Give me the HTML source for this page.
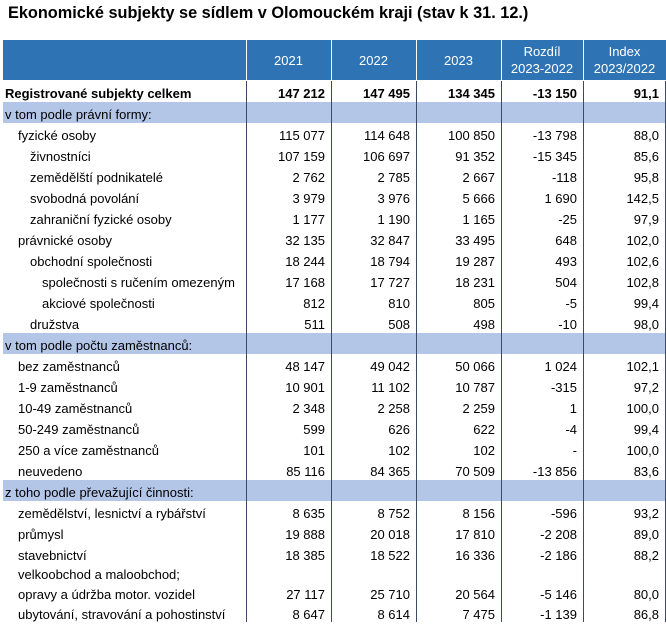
<!DOCTYPE html>
<html><head><meta charset="utf-8"><style>
body{margin:0;width:666px;height:622px;background:#fff;position:relative;overflow:hidden;font-family:"Liberation Sans",Arial,sans-serif;font-size:13px;color:#000}
.t{position:absolute;left:8px;top:4px;font-weight:bold;font-size:16.3px;white-space:nowrap}
.hd{position:absolute;top:40px;left:3px;width:663px;height:40px;background:#2e74b5}
.hc{position:absolute;top:40px;height:40px;color:#fff;display:flex;align-items:center;justify-content:center;text-align:center;line-height:17px;font-size:13px}
.hl{position:absolute;top:40px;height:40px;width:1px;background:#fff}
.vl{position:absolute;top:81px;height:541px;width:1px;background:#3b4a66}
.sec{position:absolute;left:3px;width:663px;height:21px;background:#b4c6e7}
.r{position:absolute;left:0;width:666px;height:21px}
.r span{position:absolute;top:2px;line-height:21px;white-space:nowrap}
.n{text-align:right}
</style></head><body>
<div class="t">Ekonomické subjekty se sídlem v Olomouckém kraji (stav k 31. 12.)</div>
<div class="hd"></div>
<div class="hc" style="left:246px;width:85px">2021</div>
<div class="hc" style="left:331px;width:85px">2022</div>
<div class="hc" style="left:416px;width:85px">2023</div>
<div class="hc" style="left:501px;width:82px">Rozdíl<br>2023-2022</div>
<div class="hc" style="left:583px;width:83px">Index<br>2023/2022</div>
<div class="hl" style="left:246px"></div><div class="hl" style="left:331px"></div><div class="hl" style="left:416px"></div><div class="hl" style="left:501px"></div><div class="hl" style="left:583px"></div>
<div class="sec" style="top:102px"></div>
<div class="sec" style="top:333px"></div>
<div class="sec" style="top:480px"></div>
<div class="vl" style="left:246px"></div><div class="vl" style="left:331px"></div><div class="vl" style="left:416px"></div><div class="vl" style="left:501px"></div><div class="vl" style="left:583px"></div><div class="vl" style="left:665px"></div>
<div id="rows"></div>
<script>
var d=[
["Registrované subjekty celkem",0,["147 212","147 495","134 345","-13 150","91,1"],1],
["v tom podle právní formy:",-1],
["fyzické osoby",1,["115 077","114 648","100 850","-13 798","88,0"]],
["živnostníci",2,["107 159","106 697","91 352","-15 345","85,6"]],
["zemědělští podnikatelé",2,["2 762","2 785","2 667","-118","95,8"]],
["svobodná povolání",2,["3 979","3 976","5 666","1 690","142,5"]],
["zahraniční fyzické osoby",2,["1 177","1 190","1 165","-25","97,9"]],
["právnické osoby",1,["32 135","32 847","33 495","648","102,0"]],
["obchodní společnosti",2,["18 244","18 794","19 287","493","102,6"]],
["společnosti s ručením omezeným",3,["17 168","17 727","18 231","504","102,8"]],
["akciové společnosti",3,["812","810","805","-5","99,4"]],
["družstva",2,["511","508","498","-10","98,0"]],
["v tom podle počtu zaměstnanců:",-1],
["bez zaměstnanců",1,["48 147","49 042","50 066","1 024","102,1"]],
["1-9 zaměstnanců",1,["10 901","11 102","10 787","-315","97,2"]],
["10-49 zaměstnanců",1,["2 348","2 258","2 259","1","100,0"]],
["50-249 zaměstnanců",1,["599","626","622","-4","99,4"]],
["250 a více zaměstnanců",1,["101","102","102","-","100,0"]],
["neuvedeno",1,["85 116","84 365","70 509","-13 856","83,6"]],
["z toho podle převažující činnosti:",-1],
["zemědělství, lesnictví a rybářství",1,["8 635","8 752","8 156","-596","93,2"]],
["průmysl",1,["19 888","20 018","17 810","-2 208","89,0"]],
["stavebnictví",1,["18 385","18 522","16 336","-2 186","88,2"]]
];
var h="",yy=81,ind={"-1":5,0:5,1:18,2:30,3:42},R=[331,416,501,583,665];
function row(t,lv,v,b,tp){
 var s='<div class="r" style="top:'+tp+'px;'+(b?'font-weight:bold;':'')+'">';
 s+='<span style="left:'+ind[lv]+'px">'+t+'</span>';
 if(v)for(var i=0;i<5;i++)s+='<span class="n" style="right:'+(666-R[i]+6)+'px">'+v[i]+'</span>';
 return s+'</div>';
}
for(var i=0;i<d.length;i++){h+=row(d[i][0],d[i][1],d[i][2],d[i][3],yy);yy+=21;}
h+='<div class="r" style="top:564px;height:18px"><span style="left:18px;line-height:18px">velkoobchod a maloobchod;</span></div>';
h+=row("opravy a údržba motor. vozidel",1,["27 117","25 710","20 564","-5 146","80,0"],0,582);
h+=row("ubytování, stravování a pohostinství",1,["8 647","8 614","7 475","-1 139","86,8"],0,602);
document.getElementById("rows").innerHTML=h;
</script>
</body></html>
